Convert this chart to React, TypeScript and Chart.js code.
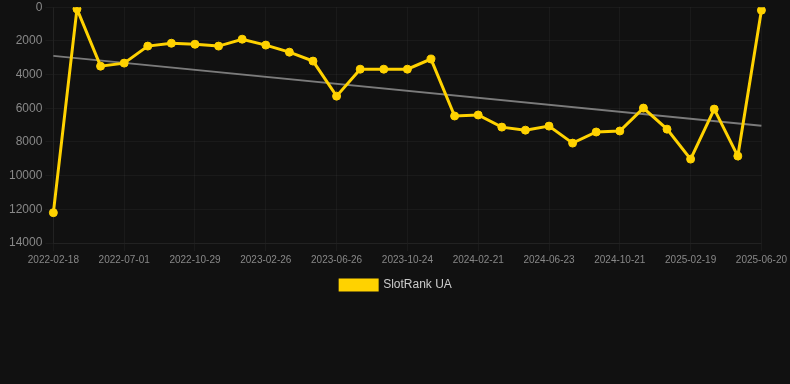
import React, { useEffect, useRef } from "react";
import { Chart, registerables } from "chart.js";

Chart.register(...registerables);

const labels: string[] = [
  "2022-02-18", "2022-04-02", "2022-05-16", "2022-07-01", "2022-08-10", "2022-09-19",
  "2022-10-29", "2022-12-08", "2023-01-17", "2023-02-26", "2023-04-07", "2023-05-17",
  "2023-06-26", "2023-08-05", "2023-09-14", "2023-10-24", "2023-12-03", "2024-01-12",
  "2024-02-21", "2024-04-01", "2024-05-12", "2024-06-23", "2024-08-02", "2024-09-11",
  "2024-10-21", "2024-11-30", "2025-01-09", "2025-02-19", "2025-03-31", "2025-05-10",
  "2025-06-20",
];

const rankValues: number[] = [
  12200, 100, 3500, 3320, 2310, 2140,
  2200, 2310, 1900, 2250, 2670, 3200,
  5280, 3680, 3680, 3680, 3080, 6460,
  6400, 7120, 7300, 7060, 8070, 7410,
  7350, 5990, 7240, 9020, 6050, 8840,
  180,
];

const trendStart = 2890;
const trendEnd = 7040;

const yTicks = { min: 0, max: 14000, step: 2000 };

export default function App() {
  const ref = useRef<HTMLCanvasElement | null>(null);

  useEffect(() => {
    document.body.style.margin = "0";
    document.body.style.background = "#111111";
    const canvas = ref.current;
    if (!canvas) return;
    const trend: (number | null)[] = labels.map((_, i) =>
      i === 0 ? trendStart : i === labels.length - 1 ? trendEnd : null
    );
    const chart = new Chart(canvas, {
      type: "line",
      data: {
        labels,
        datasets: [
          {
            label: "SlotRank UA",
            data: rankValues,
            borderColor: "#FFD200",
            backgroundColor: "#FFD200",
            borderWidth: 3,
            pointRadius: 4,
            pointBorderWidth: 1,
            pointHoverRadius: 5,
            pointBackgroundColor: "#FFD200",
            pointBorderColor: "#FFD200",
            tension: 0,
          },
          {
            label: "trend",
            data: trend,
            borderColor: "rgba(150,150,150,0.8)",
            backgroundColor: "rgba(150,150,150,0.8)",
            borderWidth: 2,
            pointRadius: 0,
            spanGaps: true,
          },
        ],
      },
      options: {
        animation: false,
        responsive: false,
        maintainAspectRatio: false,
        layout: { padding: { left: 6, right: 4, top: 0, bottom: 0 } },
        plugins: {
          legend: {
            position: "bottom",
            labels: {
              color: "#cccccc",
              font: { size: 12 },
              boxWidth: 37,
              boxHeight: 10,
              filter: (item) => item.text !== "trend",
            },
          },
          tooltip: { enabled: false },
        },
        scales: {
          x: {
            grid: { color: "rgba(255,255,255,0.04)" },
            border: { color: "rgba(255,255,255,0.04)" },
            ticks: {
              color: "#888888",
              font: { size: 10 },
              maxRotation: 0,
              autoSkip: true,
            },
          },
          y: {
            reverse: true,
            min: yTicks.min,
            max: yTicks.max,
            grid: { color: "rgba(255,255,255,0.04)" },
            border: { color: "rgba(255,255,255,0.04)" },
            ticks: {
              stepSize: yTicks.step,
              color: "#888888",
              font: { size: 12 },
              callback: (v) => String(v),
            },
          },
        },
      },
    });
    return () => chart.destroy();
  }, []);

  return (
    <div style={{ width: 790, height: 384, background: "#111111", overflow: "hidden" }}>
      <canvas ref={ref} width={790} height={304} style={{ display: "block", marginTop: -3 }} />
    </div>
  );
}
